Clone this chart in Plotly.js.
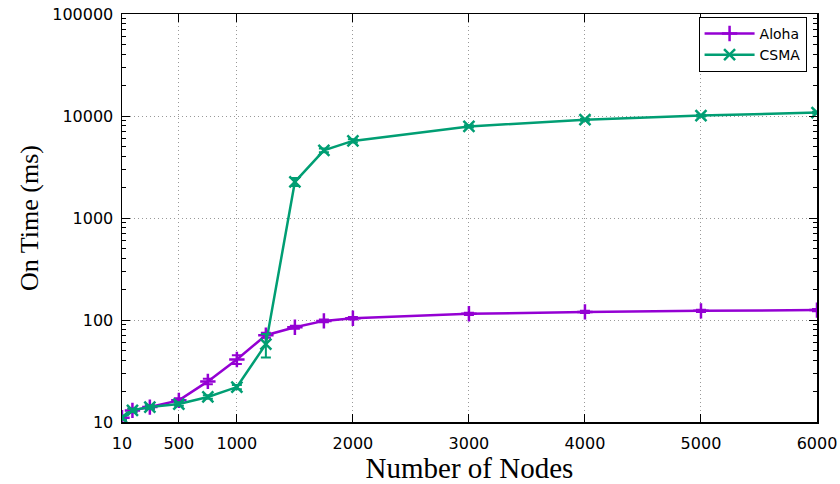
<!DOCTYPE html>
<html><head><meta charset="utf-8">
<script src="https://cdn.plot.ly/plotly-3.0.1.min.js"></script>
<style>html,body{margin:0;padding:0;background:#fff}#chart{width:840px;height:484px}</style>
</head><body><div id="chart"></div>
<script>
const nodes = [10, 100, 250, 500, 750, 1000, 1250, 1500, 1750, 2000, 3000, 4000, 5000, 6000];
const alohaOn = [11, 13, 14, 16.3, 25, 41, 71, 85, 98, 104, 115, 120, 123, 125];
const alohaErr = [0.6, 0.6, 0.6, 0.8, 1.5, 4, 4, 3, 3, 3, 3, 3, 3, 3];
const csmaOn = [11, 13, 14, 15, 17.6, 22, 58, 2260, 4600, 5700, 7900, 9200, 10100, 10800];
const csmaErrPlus = [0.5, 0.5, 0.5, 0.6, 0.7, 1, 15, 200, 200, 200, 200, 200, 200, 200];
const csmaErrMinus = [0.5, 0.5, 0.5, 0.6, 0.7, 1, 15, 200, 200, 200, 200, 200, 200, 200];
const xTickVals = [10, 500, 1000, 2000, 3000, 4000, 5000, 6000];
const xTickText = ['10', '500', '1000', '2000', '3000', '4000', '5000', '6000'];
const yTickVals = [10, 100, 1000, 10000, 100000];
const yTickText = ['10', '100', '1000', '10000', '100000'];

const purple = '#9400D3', green = '#009E73';
const traces = [
  {x: nodes, y: alohaOn, name: 'Aloha', type: 'scatter', mode: 'lines+markers',
   line: {color: purple, width: 2.5},
   marker: {symbol: 'cross-thin', size: 11, line: {color: purple, width: 2.5}},
   error_y: {type: 'data', array: alohaErr, color: purple, thickness: 2, width: 5}},
  {x: nodes, y: csmaOn, name: 'CSMA', type: 'scatter', mode: 'lines+markers',
   line: {color: green, width: 2.5},
   marker: {symbol: 'x-thin', size: 11, line: {color: green, width: 2.5}},
   error_y: {type: 'data', array: csmaErrPlus, arrayminus: csmaErrMinus, color: green, thickness: 2, width: 5}}
];
const tickFont = {family: 'DejaVu Sans, sans-serif', size: 16, color: '#000'};
const layout = {
  width: 840, height: 484,
  margin: {l: 122, r: 23, t: 14, b: 62},
  paper_bgcolor: '#fff', plot_bgcolor: '#fff',
  showlegend: true,
  legend: {x: 0.985, y: 0.993, xanchor: 'right', yanchor: 'top',
    bgcolor: '#fff', bordercolor: '#000', borderwidth: 1,
    itemwidth: 50, tracegroupgap: 0,
    font: {family: 'DejaVu Sans, sans-serif', size: 14, color: '#000'}},
  xaxis: {range: [10, 6000], tickvals: xTickVals, ticktext: xTickText,
    showline: true, linecolor: '#000', linewidth: 1.5, mirror: 'allticks',
    ticks: 'inside', ticklen: 8, tickcolor: '#000', tickwidth: 1,
    ticklabelstandoff: 6,
    showgrid: true, gridcolor: '#999', griddash: '1px,3px', gridwidth: 1,
    zeroline: false, tickfont: tickFont,
    title: {text: 'Number of Nodes', font: {family: 'Liberation Serif, serif', size: 29, color: '#000'}, standoff: 7}},
  yaxis: {type: 'log', range: [1, 5], tickvals: yTickVals, ticktext: yTickText,
    showline: true, linecolor: '#000', linewidth: 1.5, mirror: 'allticks',
    ticks: 'inside', ticklen: 8, tickcolor: '#000', tickwidth: 1,
    ticklabelstandoff: 4,
    showgrid: true, gridcolor: '#999', griddash: '1px,3px', gridwidth: 1,
    zeroline: false, tickfont: tickFont,
    minor: {dtick: 'D1', ticks: 'inside', ticklen: 4, tickcolor: '#000', showgrid: false},
    title: {text: 'On Time (ms)', font: {family: 'Liberation Serif, serif', size: 26, color: '#000'}, standoff: 6}}
};
Plotly.newPlot('chart', traces, layout, {displayModeBar: false, staticPlot: true});
</script></body></html>
